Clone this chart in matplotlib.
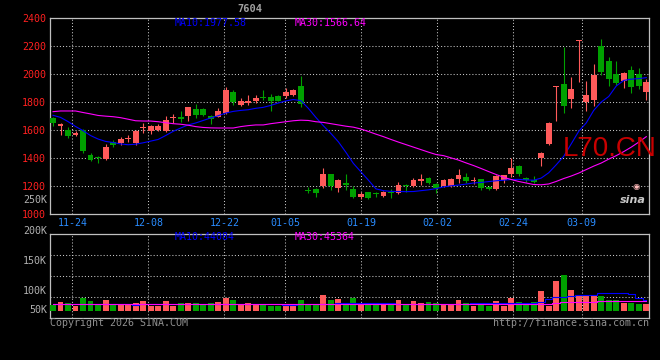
import numpy as np
import matplotlib
matplotlib.use('Agg')
import matplotlib.pyplot as plt

# ---- data (daily candles, 80 trading days) ----
dates = ['11-24', '12-08', '12-22', '01-05', '01-19', '02-02', '02-24', '03-09']
date_idx = [3, 13, 23, 31, 41, 51, 61, 70]

opens = [1688, 1630, 1602, 1565, 1597, 1421, 1407, 1392, 1516, 1507,
         1535, 1507, 1612, 1595, 1600, 1590, 1685, 1695, 1698, 1748,
         1748, 1698, 1693, 1720, 1872, 1777, 1795, 1810, 1836, 1838,
         1845, 1845, 1848, 1916, 1171, 1178, 1197, 1281, 1181, 1217,
         1174, 1121, 1154, 1150, 1124, 1152, 1147, 1204, 1195, 1235,
         1259, 1211, 1195, 1197, 1250, 1264, 1235, 1250, 1190, 1176,
         1238, 1281, 1345, 1259, 1240, 1398, 1497, 1907, 1926, 1821,
         2235, 1798, 1817, 2202, 2095, 2000, 1948, 2033, 2000, 1871]
closes = [1650, 1640, 1554, 1576, 1452, 1386, 1397, 1481, 1490, 1538,
          1543, 1590, 1620, 1626, 1625, 1669, 1695, 1676, 1762, 1705,
          1707, 1678, 1736, 1886, 1800, 1805, 1805, 1829, 1828, 1810,
          1810, 1869, 1883, 1786, 1162, 1145, 1288, 1197, 1238, 1209,
          1119, 1140, 1111, 1143, 1152, 1145, 1209, 1198, 1238, 1250,
          1221, 1181, 1245, 1250, 1274, 1231, 1245, 1186, 1178, 1269,
          1274, 1324, 1281, 1245, 1230, 1438, 1652, 1916, 1771, 1895,
          2243, 1850, 1995, 2017, 1964, 1940, 2010, 1907, 1914, 1945]
highs = [1695, 1650, 1621, 1595, 1607, 1438, 1416, 1500, 1528, 1552,
         1567, 1600, 1647, 1638, 1640, 1702, 1711, 1733, 1765, 1783,
         1755, 1707, 1760, 1911, 1886, 1829, 1848, 1848, 1886, 1855,
         1850, 1900, 1893, 1988, 1190, 1186, 1324, 1283, 1252, 1281,
         1195, 1157, 1157, 1159, 1160, 1176, 1228, 1211, 1259, 1281,
         1262, 1221, 1252, 1255, 1317, 1293, 1264, 1252, 1195, 1280,
         1276, 1402, 1347, 1261, 1269, 1440, 1655, 1916, 2197, 1979,
         2243, 1952, 2074, 2252, 2126, 2095, 2012, 2057, 2043, 1967]
lows = [1626, 1567, 1545, 1560, 1436, 1376, 1364, 1388, 1476, 1495,
        1512, 1495, 1579, 1574, 1590, 1588, 1650, 1659, 1662, 1688,
        1700, 1640, 1690, 1716, 1781, 1769, 1776, 1793, 1812, 1738,
        1805, 1829, 1843, 1762, 1145, 1121, 1183, 1173, 1159, 1167,
        1114, 1107, 1108, 1121, 1121, 1114, 1140, 1159, 1193, 1209,
        1210, 1150, 1190, 1192, 1221, 1221, 1216, 1167, 1170, 1170,
        1220, 1260, 1270, 1230, 1220, 1345, 1495, 1662, 1724, 1757,
        1945, 1738, 1769, 1993, 1917, 1919, 1900, 1867, 1893, 1812]

ma10 = [1705, 1690, 1660, 1625, 1595, 1560, 1535, 1518, 1510, 1500,
        1494, 1498, 1508, 1520, 1532, 1560, 1590, 1614, 1636, 1650,
        1668, 1686, 1702, 1721, 1733, 1740, 1745, 1755, 1762, 1776,
        1793, 1808, 1818, 1810, 1755, 1690, 1630, 1575, 1515, 1440,
        1360, 1300, 1240, 1178, 1165, 1160, 1159, 1158, 1159, 1165,
        1171, 1180, 1192, 1200, 1205, 1212, 1220, 1224, 1230, 1236,
        1240, 1245, 1246, 1242, 1240, 1255, 1293, 1350, 1411, 1500,
        1590, 1650, 1740, 1800, 1840, 1915, 1955, 1964, 1968, 1975]
ma30 = [1731, 1736, 1736, 1736, 1725, 1715, 1704, 1699, 1695, 1688,
        1677, 1666, 1664, 1664, 1659, 1652, 1645, 1641, 1634, 1624,
        1618, 1615, 1614, 1614, 1614, 1624, 1631, 1636, 1636, 1645,
        1652, 1659, 1666, 1670, 1668, 1659, 1654, 1645, 1636, 1627,
        1620, 1607, 1589, 1570, 1552, 1532, 1513, 1495, 1477, 1459,
        1441, 1424, 1416, 1400, 1384, 1364, 1345, 1324, 1302, 1281,
        1261, 1245, 1231, 1220, 1209, 1207, 1213, 1231, 1252, 1270,
        1291, 1316, 1341, 1363, 1391, 1416, 1445, 1477, 1513, 1552]

# volume in thousands
volume = [37, 61, 54, 33, 89, 68, 42, 75, 37, 42,
          42, 54, 68, 33, 33, 68, 33, 51, 54, 54,
          37, 51, 61, 89, 75, 42, 51, 42, 37, 33,
          33, 33, 33, 75, 37, 37, 107, 75, 82, 52,
          89, 51, 51, 37, 42, 37, 75, 37, 68, 51,
          61, 51, 42, 42, 75, 51, 33, 54, 33, 68,
          33, 89, 61, 42, 61, 138, 33, 208, 250, 145,
          103, 103, 103, 103, 75, 75, 54, 54, 47, 47]
vol_ma10 = [44, 44, 45, 45, 46, 46, 47, 46, 45, 44,
            44, 43, 44, 44, 44, 45, 46, 45, 44, 44,
            45, 46, 47, 48, 48, 47, 46, 45, 44, 44,
            44, 43, 43, 44, 45, 45, 47, 50, 56, 56,
            56, 56, 56, 56, 56, 56, 45, 45, 45, 45,
            45, 45, 45, 45, 45, 45, 52, 52, 52, 52,
            52, 52, 52, 52, 52, 63, 80, 96, 99, 103,
            113, 113, 113, 122, 122, 122, 122, 117, 89, 75]
vol_ma30 = [45, 45, 45, 45, 45, 45, 45, 45, 45, 45,
            45, 45, 45, 45, 45, 45, 45, 45, 45, 45,
            45, 45, 45, 45, 45, 45, 45, 45, 45, 45,
            45, 45, 45, 45, 45, 45, 45, 45, 45, 45,
            45, 45, 45, 45, 45, 45, 45, 45, 45, 45,
            45, 45, 45, 45, 45, 45, 45, 45, 45, 45,
            45, 45, 45, 45, 45, 48, 48, 56, 62, 62,
            62, 62, 62, 66, 66, 66, 66, 66, 66, 66]

price_ticks = [1000, 1200, 1400, 1600, 1800, 2000, 2200, 2400]

RED = '#ff5a5a'
GREEN = '#00a000'
GRID = '#c8c8c8'
FRAME = '#c0c0c0'
MONO = 'DejaVu Sans Mono'
W, H = 660, 360

o = np.array(opens, float)
c = np.array(closes, float)
hi = np.array(highs, float)
lo = np.array(lows, float)
x = np.arange(len(o))
up = c >= o
cols = np.where(up, RED, GREEN)

# gridlines drift slightly against the candles in the original
gpos = np.array(date_idx) - 0.43 + (np.array(date_idx) - 3) * 0.012

fig = plt.figure(figsize=(W / 100, H / 100), dpi=100, facecolor='black')


def px(xp, yp):
    return xp / W, 1 - yp / H


ax = fig.add_axes([50 / W, (H - 213.7) / H, 599.3 / W, 195.4 / H], facecolor='black')
axv = fig.add_axes([50 / W, (H - 318.3) / H, 599.3 / W, 84 / H], facecolor='black')

for a in (ax, axv):
    for s in a.spines.values():
        s.set_color(FRAME)
        s.set_linewidth(0.9)
    a.set_xlim(-0.4, 79.4)
    for g in gpos:
        a.axvline(g, color=GRID, lw=0.75, ls=(0, (1, 2)), zorder=1)

# ---- price panel ----
ax.set_ylim(1004, 2400)
for t in price_ticks[1:-1]:
    ax.axhline(t, color=GRID, lw=0.75, ls=(0, (1, 2)), zorder=1)
ax.vlines(x, lo, hi, colors=cols, lw=0.8, zorder=3)
body_h = np.maximum(np.abs(c - o), 7)
ax.bar(x, body_h, bottom=np.minimum(o, c), width=0.78, color=cols, lw=0, zorder=4)
ax.plot(x, ma10, color='#0000ff', lw=0.8, zorder=5)
ax.plot(x, ma30, color='#ff00ff', lw=0.8, zorder=5)

ax.set_yticks(price_ticks)
ax.set_yticklabels([str(t) for t in price_ticks], family=MONO)
ax.tick_params(axis='y', length=0, pad=3, labelsize=7.2, labelcolor='#ff2020')
ax.set_xticks(gpos)
ax.set_xticklabels(dates, family=MONO)
ax.tick_params(axis='x', length=0, pad=3, labelsize=7.2, labelcolor='#2a8cff')

# ---- volume panel ----
vlo, vhi = -53, 535
axv.set_ylim(vlo, vhi)
for f in (0.25, 0.5, 0.75):
    axv.axhline(vlo + (vhi - vlo) * f, color=GRID, lw=0.75, ls=(0, (1, 2)), zorder=1)
axv.bar(x, volume, width=0.78, color=cols, lw=0, zorder=3)
axv.step(x, vol_ma10, where='mid', color='#0000ff', lw=0.8, zorder=4)
axv.step(x, vol_ma30, where='mid', color='#ff00ff', lw=0.8, zorder=4)
axv.set_xticks([])
axv.set_yticks([])

# ---- texts ----
txt = dict(family=MONO, fontsize=7.2, va='center')
fig.text(*px(175, 23.3), 'MA10:1977.58', color='#0000ff', **txt)
fig.text(*px(295, 23.3), 'MA30:1566.64', color='#ff00ff', **txt)
fig.text(*px(175, 237.5), 'MA10:44084', color='#0000ff', **txt)
fig.text(*px(295, 237.5), 'MA30:45364', color='#ff00ff', **txt)
fig.text(*px(250, 9), '7604', color='#a0a0a0', ha='center', fontsize=7.5,
         fontweight='bold', family=MONO, va='center')

for lab, yp in [('200K', 230.7), ('150K', 260.7), ('100K', 290.7), ('50K', 310), ('250K', 200)]:
    fig.text(*px(47, yp), lab, color='#b0b0b0', ha='right', **txt)

fig.text(*px(50, 323.5), 'Copyright 2026 SINA.COM', color='#909090', **txt)
fig.text(*px(649, 323.5), 'http://finance.sina.com.cn', color='#909090', ha='right', **txt)

fig.text(*px(563, 149), 'L70.CN', color='#c80000', family='Liberation Sans',
         fontsize=20, va='center', zorder=10)
fig.text(*px(633, 200), 'sina', color='#c8c8c8', family='DejaVu Sans', fontsize=8,
         fontweight='bold', style='italic', ha='center', va='center', zorder=10)
fig.text(*px(636, 186.5), '\u25c9', color='#ffb8b8', fontsize=6, ha='center', va='center', zorder=10)

fig.savefig('out.png', dpi=100, facecolor='black')
